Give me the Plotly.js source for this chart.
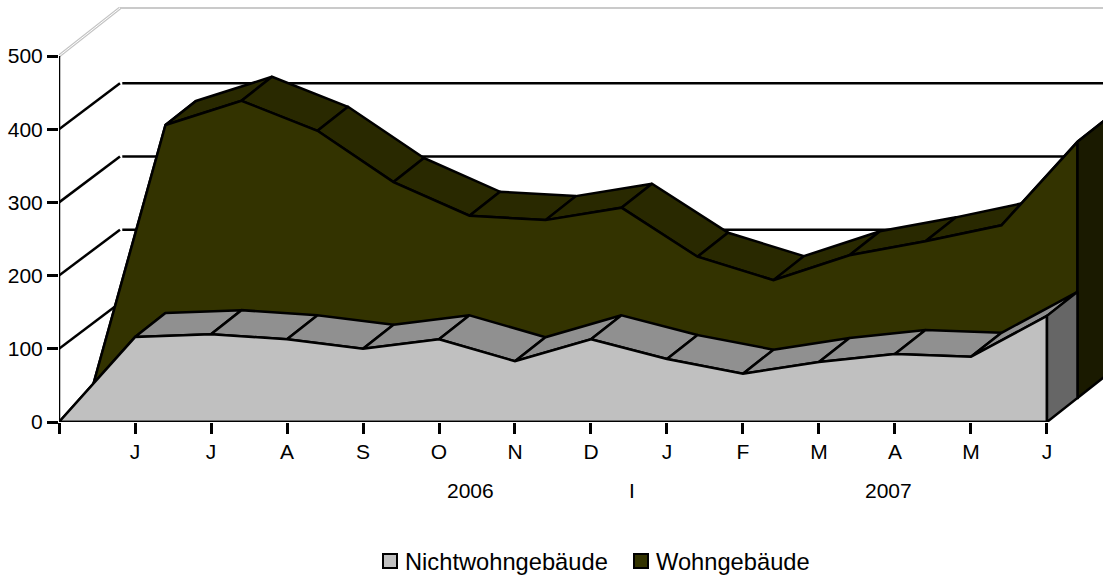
<!DOCTYPE html>
<html>
<head>
<meta charset="utf-8">
<script src="https://cdn.plot.ly/plotly-3.0.1.min.js"></script>
<style>html,body{margin:0;padding:0;background:#fff;overflow:hidden}</style>
</head>
<body>
<div id="chart" style="width:1103px;height:578px"></div>
<script>
const monthLabels = ['', 'J', 'J', 'A', 'S', 'O', 'N', 'D', 'J', 'F', 'M', 'A', 'M', 'J'];
const yearLabels = ['2006', 'I', '2007'];
const yearPositions = [5.41, 7.54, 10.92];
const yTicks = [0, 100, 200, 300, 400, 500];
const nichtwohn = [0, 116, 120, 113, 100, 113, 83, 113, 86, 66, 82, 93, 89, 145];
const wohn = [0, 373, 406, 365, 295, 249, 243, 260, 193, 161, 195, 214, 236, 350];

const DX = 0.4013, DY = 32.8, GRID_DROP = 2.8, LW = 2.5;
const months = monthLabels.map((_, i) => i);
const traces = [];

function poly(xs, ys, fill) {
  traces.push({x: xs.concat(xs[0]), y: ys.concat(ys[0]), mode: 'lines', fill: 'toself', fillcolor: fill,
    line: {color: '#000', width: LW, shape: 'linear'}, cliponaxis: false, hoverinfo: 'skip', showlegend: false});
}
function stroke(xs, ys, color, width) {
  traces.push({x: xs, y: ys, mode: 'lines', line: {color: color, width: width},
    cliponaxis: false, hoverinfo: 'skip', showlegend: false});
}

// side and back walls
const xMax = 13.74;
yTicks.forEach(t => {
  if (t === 500) {
    stroke([0, 2 * DX], [t, t + 2 * DY], '#c4c4c4', 3);
    stroke([0, 2 * DX], [t, t + 2 * DY], '#ffffff', 1);
    stroke([2 * DX, xMax], [t + 2 * DY, t + 2 * DY], '#b8b8b8', 1.5);
  } else if (t > 0) {
    const back = t + 2 * DY - GRID_DROP;
    stroke([0, 2 * DX], [t, back], '#000', LW);
    stroke([2 * DX + 0.03, xMax], [back, back], '#000', LW);
  }
});

function series(values, slot, front, top, side) {
  const ox = slot * DX, oy = slot * DY;
  for (let i = 0; i < values.length - 1; i++) {
    poly([i + ox, i + 1 + ox, i + 1 + ox + DX, i + ox + DX],
         [values[i] + oy, values[i + 1] + oy, values[i + 1] + oy + DY, values[i] + oy + DY], top);
  }
  const n = values.length - 1;
  poly(months.map(m => m + ox).concat(n + ox),
       values.map(v => v + oy).concat(oy), front);
  poly([n + ox, n + ox + DX, n + ox + DX, n + ox],
       [values[n] + oy, values[n] + oy + DY, oy + DY, oy], side);
}
series(wohn, 1, '#333300', '#292900', '#1a1a00');
series(nichtwohn, 0, '#c0c0c0', '#909090', '#666666');

// axis lines
stroke([0, 0], [0, 500], '#000', LW);
stroke([0, 13], [0, 0], '#000', LW);

// legend entries
[['Nichtwohngebäude', '#c0c0c0'], ['Wohngebäude', '#333300']].forEach(([name, col]) => {
  traces.push({x: [null], y: [null], mode: 'markers', name: name, showlegend: true, hoverinfo: 'skip',
    marker: {symbol: 'square', size: 14, color: col, line: {color: '#000', width: 2}}});
});

const layout = {
  width: 1103, height: 578,
  margin: {l: 59, r: 0, t: 0, b: 156, pad: 0},
  paper_bgcolor: '#fff', plot_bgcolor: 'rgba(0,0,0,0)',
  font: {family: '"Liberation Sans", Arial, sans-serif', color: '#000', size: 21},
  xaxis: {range: [0, 13.737], tickmode: 'array', tickvals: months, ticktext: monthLabels,
    ticks: 'outside', ticklen: 10.5, tickwidth: LW, tickcolor: '#000', showgrid: false, zeroline: false, showline: false,
    tickangle: 0, tickfont: {size: 21}},
  yaxis: {range: [0, 576.5], tickmode: 'array', tickvals: yTicks,
    ticks: 'outside', ticklen: 11, tickwidth: LW, tickcolor: '#000', showgrid: false, zeroline: false, showline: false,
    tickfont: {size: 21}},
  showlegend: true,
  legend: {orientation: 'h', xref: 'container', yref: 'container', x: 365 / 1103, y: 1 - 539 / 578,
    xanchor: 'left', yanchor: 'top', font: {size: 23.7}, entrywidth: 206, entrywidthmode: 'pixels',
    bgcolor: 'rgba(0,0,0,0)', itemclick: false, itemdoubleclick: false},
  annotations: yearLabels.map((t, i) => ({text: t, x: yearPositions[i], xref: 'x', y: 0, yref: 'y',
    yshift: -68, showarrow: false, font: {size: 21}, xanchor: 'center', yanchor: 'middle'}))
};

Plotly.newPlot('chart', traces, layout, {displayModeBar: false}).then(gd => {
  gd.querySelectorAll('.legendsymbols').forEach(g => g.setAttribute('transform', 'translate(5,0)'));
});
</script>
</body>
</html>
